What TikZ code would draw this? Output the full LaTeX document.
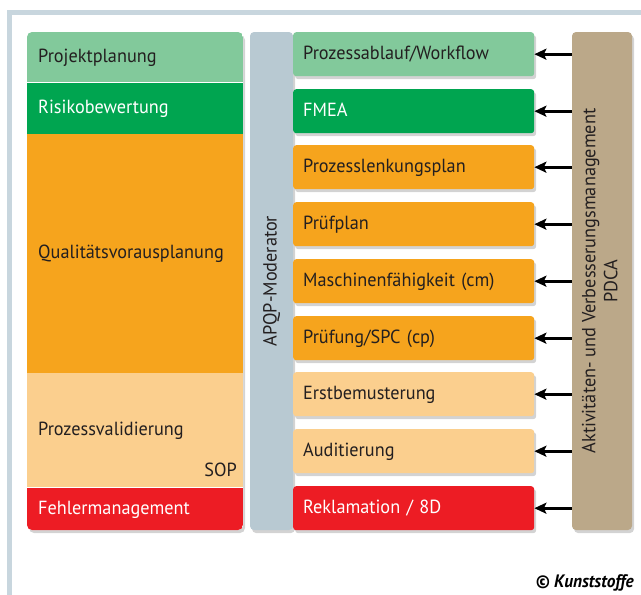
\documentclass[tikz,border=0pt]{standalone}
\usepackage{fontspec}
\setmainfont[FakeStretch=0.96]{PT Sans}
\usetikzlibrary{shadows,arrows.meta,calc}

\definecolor{framegray}{HTML}{C8D6DE}
\definecolor{lightgreen}{HTML}{82C99B}
\definecolor{darkgreen}{HTML}{00A550}
\definecolor{orange}{HTML}{F6A41D}
\definecolor{lightorange}{HTML}{FBCF8E}
\definecolor{alarmred}{HTML}{ED1C24}
\definecolor{modgray}{HTML}{B8C9D2}
\definecolor{pdcatan}{HTML}{BBA889}
\definecolor{textdark}{HTML}{231F20}

\begin{document}
\begin{tikzpicture}[
        %We work in pixels, y pointing down, and define some styles
        x=1pt, y=-1pt,
        every node/.style={font=\fontsize{19}{22}\selectfont, text=textdark},
        boxshadow/.style={drop shadow={opacity=0.35, shadow xshift=2pt, shadow yshift=-3pt}},
        phase/.style={anchor=north west, minimum width=216pt, text width=194pt,
            inner xsep=11pt, inner ysep=0pt, align=left, text height=13pt, text depth=3pt},
        taskbox/.style={anchor=north west, rounded corners=3pt, minimum width=241pt,
            minimum height=44pt, text width=221pt, inner xsep=10pt, inner ysep=0pt,
            align=left, text height=13pt, text depth=3pt, boxshadow},
        bar/.style={rounded corners=4pt, inner sep=0pt, minimum height=498pt, boxshadow},
        feedback/.style={line width=2.6pt, -{Stealth[length=12pt, width=11pt, inset=2.5pt]}}
     ]
    \useasboundingbox (0,0) rectangle (641,595);
    % frame
    \draw[line width=5pt, framegray] (9.5,595) -- (9.5,12) -- (641,12);

    % left column with the phases
    \begin{scope}
        \path[fill=white, rounded corners=5pt, boxshadow] (27,32) rectangle (243,530);
        \clip[rounded corners=5pt] (27,32) rectangle (243,530);
        \node[phase, fill=lightgreen, minimum height=50pt] (plan) at (27,32) {Projektplanung};
        \node[phase, fill=darkgreen, text=white, minimum height=51pt] (risk) at (plan.south west) {Risikobewertung};
        \node[phase, fill=orange, minimum height=239pt] (quality) at (risk.south west) {Qualitätsvorausplanung};
        \node[phase, fill=lightorange, minimum height=114pt] (valid) at (quality.south west) {Prozessvalidierung};
        \node[phase, fill=alarmred, text=white, minimum height=44pt] (errors) at (valid.south west) {Fehlermanagement};
    \end{scope}
    \node[anchor=east, inner sep=0pt] (sop) at (237,470) {SOP};

    % moderator bar
    \node[bar, fill=modgray, minimum width=43pt] (moderator) at (271.5,281) {\rotatebox{90}{APQP-Moderator}};

    % the tasks
    \node[taskbox, fill=lightgreen] (workflow) at (293,32) {Prozessablauf/Workflow};
    \node[taskbox, fill=darkgreen, text=white] (fmea) at (293,89) {FMEA};
    \node[taskbox, fill=orange] (control) at (293,145) {Prozesslenkungsplan};
    \node[taskbox, fill=orange] (testplan) at (293,202) {Prüfplan};
    \node[taskbox, fill=orange] (machine) at (293,259) {Maschinenfähigkeit (cm)};
    \node[taskbox, fill=orange] (spc) at (293,316) {Prüfung/SPC (cp)};
    \node[taskbox, fill=lightorange] (sampling) at (293,372) {Erstbemusterung};
    \node[taskbox, fill=lightorange] (audit) at (293,429) {Auditierung};
    \node[taskbox, fill=alarmred, text=white] (complaint) at (293,486) {Reklamation / 8D};

    % improvement bar
    \node[bar, fill=pdcatan, minimum width=60pt] (pdca) at (602,281)
        {\rotatebox{90}{\begin{tabular}{@{}c@{}}Aktivitäten- und Verbesserungsmanagement\\PDCA\end{tabular}}};

    % feedback arrows
    \draw[feedback] (pdca.west |- workflow.east) -- (workflow.east);
    \draw[feedback] (pdca.west |- fmea.east) -- (fmea.east);
    \draw[feedback] (pdca.west |- control.east) -- (control.east);
    \draw[feedback] (pdca.west |- testplan.east) -- (testplan.east);
    \draw[feedback] (pdca.west |- machine.east) -- (machine.east);
    \draw[feedback] (pdca.west |- spc.east) -- (spc.east);
    \draw[feedback] (pdca.west |- sampling.east) -- (sampling.east);
    \draw[feedback] (pdca.west |- audit.east) -- (audit.east);
    \draw[feedback] (pdca.west |- complaint.east) -- (complaint.east);

    % credit
    \node[anchor=east, inner sep=0pt, font=\fontsize{18}{20}\selectfont\bfseries\itshape, text=black]
        (credit) at (634,583) {\textcopyright{} Kunststoffe};
\end{tikzpicture}
\end{document}
